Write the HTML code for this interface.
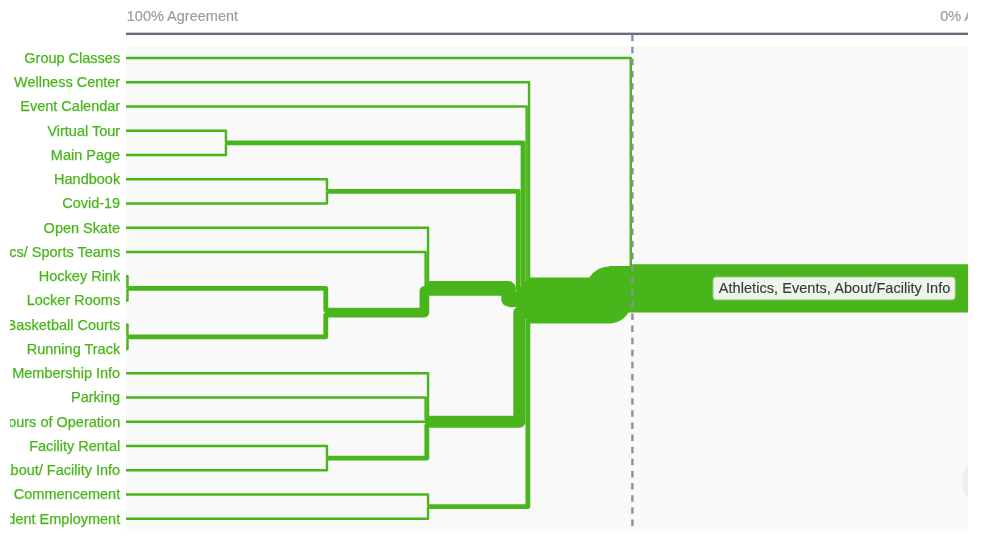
<!DOCTYPE html>
<html><head><meta charset="utf-8"><style>
html,body{margin:0;padding:0;width:984px;height:546px;overflow:hidden;background:#fff}
svg{position:absolute;left:0;top:0}
#w{position:absolute;left:0;top:0;width:984px;height:546px;filter:blur(0px)}
text{font-family:"Liberation Sans",sans-serif;font-size:14.5px}
</style></head><body>
<div id="w"><svg width="984" height="546" viewBox="0 0 984 546">
<defs><clipPath id="pc"><rect x="126" y="46" width="842" height="485"/></clipPath>
<clipPath id="hc"><rect x="0" y="0" width="968" height="40"/></clipPath></defs>
<g clip-path="url(#hc)" fill="#979ea5" stroke="#979ea5" stroke-width="0.2">
<text x="126.8" y="21.2">100% Agreement</text>
<text x="940.2" y="21.2">0% Agreement</text>
</g>
<rect x="126" y="32.64" width="842" height="2.42" fill="#66707a"/>
<rect x="126" y="46" width="842" height="485" fill="#f9f9f9"/>
<g clip-path="url(#pc)">
<circle cx="989" cy="482" r="27" fill="#edf0f2"/>
<g fill="none" stroke="#48b61a" stroke-linejoin="round">
<path d="M126.00,130.78H225.94V141.70H227.15" stroke-width="2.42"/>
<path d="M126.00,155.03H225.94V144.12H227.15" stroke-width="2.42"/>
<path d="M126.00,179.28H326.99V190.19H328.20" stroke-width="2.42"/>
<path d="M126.00,203.52H326.99V192.61H328.20" stroke-width="2.42"/>
<path d="M126.00,276.25H127.50V287.17H128.71" stroke-width="2.42"/>
<path d="M126.00,300.50H127.50V289.59H128.71" stroke-width="2.42"/>
<path d="M126.00,324.75H127.50V335.66H128.71" stroke-width="2.42"/>
<path d="M126.00,348.99H127.50V338.08H128.71" stroke-width="2.42"/>
<path d="M128.71,288.38H325.78V310.20H328.20" stroke-width="4.84"/>
<path d="M128.71,336.87H325.78V315.04H328.20" stroke-width="4.84"/>
<path d="M126.00,227.76H428.04V282.33H429.25" stroke-width="2.42"/>
<path d="M126.00,252.01H425.62V284.75H429.25" stroke-width="2.42"/>
<path d="M328.20,312.62H424.41V290.80H429.25" stroke-width="9.68"/>
<path d="M126.00,445.97H326.99V456.88H328.20" stroke-width="2.42"/>
<path d="M126.00,470.22H326.99V459.30H328.20" stroke-width="2.42"/>
<path d="M126.00,373.24H428.04V416.88H429.25" stroke-width="2.42"/>
<path d="M126.00,397.48H425.62V419.31H429.25" stroke-width="2.42"/>
<path d="M126.00,421.73H429.25" stroke-width="2.42"/>
<path d="M328.20,458.09H426.83V425.36H429.25" stroke-width="4.84"/>
<path d="M126.00,494.46H428.04V505.37H429.25" stroke-width="2.42"/>
<path d="M126.00,518.71H428.04V507.79H429.25" stroke-width="2.42"/>
<path d="M126.00,82.30H529.09V278.72H530.30" stroke-width="2.42"/>
<path d="M126.00,106.54H526.67V281.14H530.30" stroke-width="2.42"/>
<path d="M227.15,142.91H523.04V284.77H530.30" stroke-width="4.84"/>
<path d="M328.20,191.40H518.20V289.61H530.30" stroke-width="4.84"/>
<path d="M429.25,288.38H508.52V299.29H530.30" stroke-width="14.52"/>
<path d="M429.25,421.73H519.41V312.60H530.30" stroke-width="12.10"/>
<path d="M429.25,506.58H527.88V321.07H530.30" stroke-width="4.84"/>
<path d="M126.00,58.05H630.79V265.39H632.00" stroke-width="2.42"/>
<path d="M530.30,300.50H609.01V289.59H632.00" stroke-width="45.98"/>
<path d="M632.00,288.38H980" stroke-width="48.40"/>
</g>
<g fill="#48b61a">
<rect x="225.94" y="141.49" width="5.21" height="2.02"/>
<rect x="225.94" y="142.31" width="5.21" height="2.02"/>
<rect x="326.99" y="189.98" width="5.21" height="2.02"/>
<rect x="326.99" y="190.80" width="5.21" height="2.02"/>
<rect x="127.50" y="286.96" width="5.21" height="2.02"/>
<rect x="127.50" y="287.78" width="5.21" height="2.02"/>
<rect x="127.50" y="335.45" width="5.21" height="2.02"/>
<rect x="127.50" y="336.27" width="5.21" height="2.02"/>
<rect x="325.78" y="308.78" width="6.42" height="4.44"/>
<rect x="325.78" y="312.02" width="6.42" height="4.44"/>
<rect x="428.04" y="282.12" width="5.21" height="2.02"/>
<rect x="425.62" y="282.94" width="7.63" height="3.62"/>
<rect x="424.41" y="285.36" width="8.84" height="9.28"/>
<rect x="326.99" y="456.67" width="5.21" height="2.02"/>
<rect x="326.99" y="457.49" width="5.21" height="2.02"/>
<rect x="428.04" y="416.68" width="5.21" height="2.02"/>
<rect x="425.62" y="417.50" width="7.63" height="3.62"/>
<rect x="425.25" y="419.92" width="8.00" height="3.62"/>
<rect x="426.83" y="422.33" width="6.42" height="4.44"/>
<rect x="428.04" y="505.16" width="5.21" height="2.02"/>
<rect x="428.04" y="505.98" width="5.21" height="2.02"/>
<rect x="529.09" y="278.51" width="5.21" height="2.02"/>
<rect x="526.67" y="279.33" width="7.63" height="3.62"/>
<rect x="523.04" y="281.75" width="11.26" height="6.04"/>
<rect x="518.20" y="286.59" width="16.10" height="6.04"/>
<rect x="508.52" y="291.43" width="25.78" height="15.72"/>
<rect x="519.41" y="305.95" width="14.89" height="13.30"/>
<rect x="527.88" y="318.05" width="6.42" height="4.44"/>
<rect x="630.79" y="265.18" width="5.21" height="2.02"/>
<rect x="609.01" y="266.00" width="26.99" height="45.58"/>
</g>
</g>
<clipPath id="lc"><rect x="10" y="40" width="120" height="500"/></clipPath>
<g fill="#48b61a" stroke="#48b61a" stroke-width="0.25" text-anchor="end" clip-path="url(#lc)">
<text x="120.2" y="62.85">Group Classes</text>
<text x="120.2" y="87.09">Wellness Center</text>
<text x="120.2" y="111.34">Event Calendar</text>
<text x="120.2" y="135.59">Virtual Tour</text>
<text x="120.2" y="159.83">Main Page</text>
<text x="120.2" y="184.08">Handbook</text>
<text x="120.2" y="208.32">Covid-19</text>
<text x="120.2" y="232.56">Open Skate</text>
<text x="120.2" y="256.81">Athletics/ Sports Teams</text>
<text x="120.2" y="281.06">Hockey Rink</text>
<text x="120.2" y="305.30">Locker Rooms</text>
<text x="120.2" y="329.55">Basketball Courts</text>
<text x="120.2" y="353.79">Running Track</text>
<text x="120.2" y="378.04">Membership Info</text>
<text x="120.2" y="402.28">Parking</text>
<text x="120.2" y="426.53">Hours of Operation</text>
<text x="120.2" y="450.77">Facility Rental</text>
<text x="120.2" y="475.02">About/ Facility Info</text>
<text x="120.2" y="499.26">Commencement</text>
<text x="120.2" y="523.50">Student Employment</text>
</g>
<line x1="632.4" y1="34.63" x2="632.4" y2="526.5" stroke="#8a939c" stroke-width="2.42" stroke-dasharray="6.5 5.62"/>
<rect x="713.1" y="277.1" width="242" height="22.7" rx="3" fill="#edf5e8" stroke="#b9c4b0" stroke-width="1"/>
<text x="718.8" y="293.1" fill="#3a3a3a" stroke="#3a3a3a" stroke-width="0.15" letter-spacing="0.05">Athletics, Events, About/Facility Info</text>
</svg></div>
</body></html>
